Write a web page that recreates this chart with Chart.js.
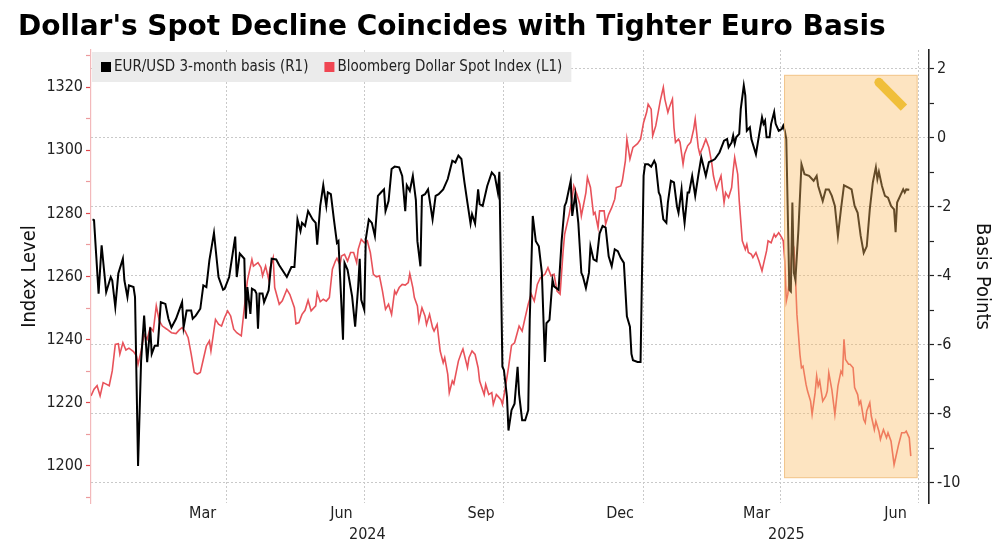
<!DOCTYPE html>
<html>
<head>
<meta charset="utf-8">
<script src="https://cdn.jsdelivr.net/npm/chart.js@4.4.1/dist/chart.umd.min.js"></script>
<style>
  html, body { margin: 0; padding: 0; background: #fff; }
</style>
</head>
<body>
<canvas id="basisChart" width="1000" height="545"></canvas>
<script>
// x values are calendar days counted from 1 Jan 2024
var basisDays = [3,4,7,9,12,15,16,18,20,23,24,26,27,30,31,33,35,37,39,41,42,44,46,48,51,53,55,58,62,63,65,68,69,71,74,76,78,80,83,86,89,90,93,97,98,100,103,104,105,107,108,110,111,112,113,115,116,119,121,124,126,131,134,136,138,140,141,143,145,148,150,151,153,155,157,158,160,162,164,165,167,168,169,171,174,176,178,179,180,182,183,185,187,189,191,193,195,196,198,200,202,205,207,209,210,212,214,216,217,219,220,222,224,227,229,231,234,237,240,242,244,246,248,250,252,253,255,257,258,260,263,266,268,270,271,273,274,276,277,279,281,283,284,286,288,290,291,293,295,297,299,301,302,304,306,307,310,312,314,315,318,319,321,323,325,326,328,330,331,333,335,337,339,341,343,345,347,349,351,353,355,357,358,359,362,364,366,367,369,371,373,374,376,377,379,381,382,384,386,388,389,391,392,393,395,396,398,400,402,404,407,409,411,413,416,419,421,422,424,425,426,427,429,430,432,433,434,436,437,440,442,444,445,446,447,449,450,452,453,455,457,458,459,460,462,463,464,465,466,468,470,472,475,478,480,481,484,486,488,490,492,494,496,498,501,503,505,507,509,511,513,515,517,519,520,521,523,525,527,529,531,532,533,535,537,538,539,541];
var basisValues = [-2.36,-2.38,-4.51,-3.11,-4.47,-4.03,-4.13,-4.90,-3.93,-3.50,-4.13,-4.61,-4.27,-4.32,-4.61,-9.51,-6.46,-5.15,-6.50,-5.49,-6.26,-6.02,-6.02,-4.76,-4.81,-5.24,-5.49,-5.24,-4.76,-5.49,-5.00,-5.00,-5.24,-5.15,-4.95,-4.27,-4.32,-3.54,-2.75,-4.03,-4.40,-4.37,-4.03,-2.86,-4.03,-3.35,-3.50,-5.24,-4.32,-5.10,-4.37,-4.42,-4.51,-5.53,-4.51,-4.51,-4.76,-4.42,-3.50,-3.52,-3.69,-4.03,-3.74,-3.74,-2.36,-2.70,-2.46,-2.55,-2.12,-2.36,-2.46,-3.09,-1.97,-1.37,-1.97,-1.58,-1.63,-2.36,-3.04,-2.99,-4.88,-5.85,-3.62,-3.82,-4.59,-5.47,-4.30,-3.50,-4.69,-4.98,-2.94,-2.36,-2.46,-2.84,-1.68,-1.58,-1.49,-2.12,-1.83,-0.90,-0.83,-0.85,-1.10,-2.12,-1.37,-1.53,-1.10,-1.80,-2.99,-3.72,-1.68,-1.63,-1.49,-2.36,-1.68,-1.63,-1.49,-1.19,-0.66,-0.71,-0.51,-0.61,-1.29,-1.89,-2.48,-2.21,-2.48,-1.49,-1.92,-1.97,-1.39,-1.00,-1.10,-1.58,-0.98,-6.63,-6.73,-7.50,-8.48,-7.89,-7.70,-6.63,-7.43,-8.18,-8.18,-7.89,-5.27,-2.26,-2.99,-3.14,-3.91,-6.49,-5.37,-5.27,-4.11,-4.30,-4.40,-2.99,-1.97,-1.87,-1.24,-2.26,-1.63,-2.46,-3.91,-4.01,-4.35,-3.91,-3.14,-3.52,-3.57,-2.77,-2.55,-2.60,-3.43,-3.72,-3.23,-3.28,-3.48,-3.62,-5.17,-5.47,-6.26,-6.44,-6.49,-6.49,-1.10,-0.76,-0.76,-0.83,-0.66,-0.76,-1.58,-1.68,-2.36,-2.46,-1.87,-1.24,-1.29,-1.99,-2.17,-1.49,-2.07,-2.46,-1.58,-1.58,-1.10,-1.68,-1.10,-0.56,-1.10,-0.70,-0.66,-0.61,-0.42,-0.08,-0.03,-0.27,-0.13,0.07,-0.17,0.02,0.12,0.84,1.52,1.23,0.21,0.31,-0.03,-0.47,0.07,0.60,0.41,0.50,0.02,0.02,0.41,0.75,0.41,0.21,0.26,0.36,0.21,-0.03,-4.40,-4.45,-1.87,-3.91,-4.11,-2.65,-0.76,-1.05,-1.10,-1.24,-1.10,-1.39,-1.83,-1.49,-1.49,-1.68,-1.97,-2.84,-2.07,-1.37,-1.44,-1.49,-1.97,-2.17,-2.84,-3.33,-3.14,-2.07,-1.29,-0.85,-1.19,-0.98,-1.39,-1.68,-1.73,-1.97,-2.07,-2.73,-1.87,-1.68,-1.49,-1.58,-1.49,-1.50];

var dollarDays = [2,4,6,7,8,10,12,14,16,18,20,21,23,25,27,30,32,33,35,37,39,41,43,45,47,49,52,55,58,60,62,64,66,68,70,72,74,76,78,80,81,84,86,88,90,92,94,96,98,101,103,105,108,109,112,114,115,117,119,120,122,123,126,128,131,133,136,137,139,141,143,145,147,150,151,153,155,157,159,161,163,164,166,167,169,171,173,175,177,178,180,182,184,186,188,190,192,194,196,198,200,202,203,205,207,209,211,212,214,215,217,218,220,222,223,225,227,228,230,232,234,235,237,238,240,241,244,246,247,250,251,253,255,257,258,261,262,264,266,267,269,270,272,273,275,277,279,281,284,286,288,290,292,294,296,298,301,303,305,307,309,311,313,314,317,319,320,322,324,325,328,329,331,333,334,336,337,340,341,343,345,347,348,351,352,354,355,357,359,362,364,366,368,369,371,372,374,375,377,379,380,382,383,385,386,387,389,390,392,393,395,397,399,400,402,403,405,407,409,411,412,414,415,417,419,420,422,424,425,426,428,429,431,433,434,435,437,438,440,442,444,445,447,448,450,452,453,455,457,458,459,460,461,463,464,465,466,467,469,470,471,473,474,476,477,479,480,481,482,484,486,487,488,490,492,494,496,497,498,499,501,502,504,505,507,508,509,511,512,513,515,516,518,519,521,522,523,524,526,527,529,531,532,534,536,538,539,541,542];
var dollarValues = [1222.2,1224.3,1225.4,1223.8,1222.2,1226.4,1225.9,1225.4,1230.1,1238.5,1238.7,1235.4,1239.0,1236.7,1237.3,1236.2,1234.8,1232.2,1236.4,1241.7,1240.1,1243.8,1242.7,1250.7,1245.9,1244.3,1243.3,1242.2,1241.9,1243.0,1243.8,1242.7,1240.6,1235.4,1229.6,1229.1,1229.6,1233.8,1238.0,1239.6,1236.4,1246.4,1244.9,1244.3,1247.0,1249.1,1247.5,1243.3,1242.2,1241.2,1250.1,1258.6,1265.4,1263.3,1264.4,1262.8,1260.2,1263.3,1259.1,1262.8,1266.0,1256.5,1251.2,1252.3,1255.9,1254.3,1250.1,1245.0,1245.4,1248.0,1249.3,1252.5,1249.1,1250.7,1254.9,1252.0,1252.8,1252.2,1253.3,1262.3,1264.9,1265.8,1263.7,1266.5,1267.0,1264.9,1267.6,1267.6,1264.4,1268.6,1271.8,1270.7,1271.3,1267.6,1260.7,1259.9,1260.2,1255.4,1249.6,1251.2,1248.0,1255.4,1254.4,1256.5,1257.5,1257.3,1258.1,1260.9,1256.5,1253.3,1250.7,1245.9,1250.1,1247.5,1244.8,1248.0,1243.8,1242.7,1244.8,1236.4,1232.7,1234.3,1229.0,1223.2,1226.9,1226.0,1233.2,1235.9,1237.0,1231.1,1234.3,1236.4,1235.3,1231.1,1226.9,1222.6,1225.8,1222.6,1223.2,1219.5,1222.6,1222.1,1221.0,1219.5,1225.0,1231.1,1238.2,1239.0,1244.3,1242.7,1247.0,1251.2,1254.4,1252.2,1257.5,1259.6,1260.7,1262.8,1260.2,1260.7,1255.4,1254.4,1268.1,1273.4,1279.7,1285.0,1288.7,1286.1,1282.9,1279.2,1286.6,1291.4,1288.2,1279.7,1280.3,1275.5,1280.8,1280.8,1276.6,1279.7,1281.8,1284.5,1288.2,1288.7,1290.3,1296.6,1303.5,1297.2,1300.9,1302.1,1303.5,1308.8,1312.0,1314.6,1313.0,1304.6,1307.7,1310.3,1315.7,1319.9,1316.2,1312.0,1313.6,1316.2,1307.2,1302.5,1303.5,1302.5,1295.6,1298.8,1301.4,1302.5,1306.7,1309.9,1300.9,1298.8,1300.9,1303.5,1300.9,1295.6,1291.9,1287.7,1289.2,1291.9,1283.4,1286.6,1285.0,1288.2,1293.5,1297.7,1292.4,1284.0,1271.3,1268.6,1270.2,1267.6,1267.0,1266.0,1267.6,1264.9,1261.8,1263.9,1268.1,1271.3,1270.7,1273.4,1272.5,1273.9,1272.3,1271.3,1264.9,1252.2,1254.4,1262.8,1270.7,1269.2,1260.2,1248.0,1235.3,1231.1,1231.6,1225.8,1223.7,1220.5,1216.3,1223.2,1228.5,1225.3,1226.9,1220.5,1222.1,1223.7,1229.5,1224.2,1216.3,1225.3,1230.0,1229.0,1240.1,1233.7,1232.2,1232.2,1231.1,1224.8,1222.6,1219.5,1220.5,1214.7,1213.7,1217.4,1220.0,1215.8,1211.5,1214.2,1211.0,1208.4,1210.0,1211.5,1208.9,1210.5,1207.8,1200.4,1202.5,1206.8,1210.5,1210.5,1211.0,1208.9,1203.1];

var indexTicks = [1200, 1220, 1240, 1260, 1280, 1300, 1320];
var basisTicks = [-10, -8, -6, -4, -2, 0, 2];
// labelled months: [label, year, month]
var monthLabels = [['Mar', 2024, 3], ['Jun', 2024, 6], ['Sep', 2024, 9], ['Dec', 2024, 12], ['Mar', 2025, 3], ['Jun', 2025, 6]];
var yearLabels = [2024, 2025];

// shaded window after the April 2025 tariff shock
var shadeDays = [458.5, 546.5];
var shadeBasis = [1.83, -9.86];

var fontFamily = "'DejaVu Sans Condensed', 'Open Sans', sans-serif";

function dayOf(y, m, d) {
    return (Date.UTC(y, m - 1, d) - Date.UTC(2024, 0, 1)) / 86400000;
}

var xMin = 2, xMax = 554;
var monthMid = monthLabels.map(function (m) {
    return (dayOf(m[1], m[2], 1) + dayOf(m[1], m[2] + 1, 1)) / 2;
});
var quarterLines = monthLabels.map(function (m) { return dayOf(m[1], m[2] + 1, 1); });
var yearMid = yearLabels.map(function (y) {
    var a = Math.max(xMin, dayOf(y, 1, 1)), b = Math.min(xMax, dayOf(y + 1, 1, 1));
    return (a + b) / 2;
});

function toPoints(days, values) {
    return days.map(function (d, i) { return { x: d, y: values[i] }; });
}

var overlayPlugin = {
    id: 'overlay',
    afterDatasetsDraw: function (chart) {
        var ctx = chart.ctx, xs = chart.scales.x, yb = chart.scales.yBasis, yi = chart.scales.yIndex;
        var area = chart.chartArea;
        ctx.save();

        // highlighted window
        var x1 = xs.getPixelForValue(shadeDays[0]), x2 = xs.getPixelForValue(shadeDays[1]);
        var y1 = yb.getPixelForValue(shadeBasis[0]), y2 = yb.getPixelForValue(shadeBasis[1]);
        ctx.fillStyle = 'rgba(250, 188, 100, 0.4)';
        ctx.fillRect(x1, y1, x2 - x1, y2 - y1);
        ctx.strokeStyle = 'rgba(238, 186, 120, 0.7)';
        ctx.lineWidth = 1;
        ctx.strokeRect(x1 + 0.5, y1 + 0.5, x2 - x1 - 1, y2 - y1 - 1);

        // highlighter stroke in the corner
        var hx1 = xs.getPixelForValue(521), hy1 = yi.getPixelForValue(1321.5);
        var hx2 = xs.getPixelForValue(537.5), hy2 = yi.getPixelForValue(1313.5);
        ctx.strokeStyle = '#f0bf3a';
        ctx.lineWidth = 9;
        ctx.lineCap = 'butt';
        ctx.beginPath();
        ctx.moveTo(hx1, hy1);
        ctx.lineTo(hx2, hy2);
        ctx.stroke();
        ctx.fillStyle = '#f0bf3a';
        ctx.beginPath();
        ctx.arc(hx1, hy1, 4.5, 0, Math.PI * 2);
        ctx.fill();

        // boxed legend inside the plot
        ctx.font = '15px ' + fontFamily;
        ctx.textBaseline = 'middle';
        var items = chart.data.datasets.map(function (ds) {
            return { text: ds.label, color: ds.legendColor, w: ctx.measureText(ds.label).width };
        });
        var bx = area.left + 1, by = area.top + 2, bh = 30, pad = 9, sq = 10, gap = 3, sep = 16;
        var bw = pad * 2 + items.reduce(function (s, it) { return s + sq + gap + it.w; }, 0) + sep * (items.length - 1);
        ctx.fillStyle = '#ebebeb';
        ctx.fillRect(bx, by, bw, bh);
        var cx = bx + pad, cy = by + bh / 2;
        items.forEach(function (it) {
            ctx.fillStyle = it.color;
            ctx.fillRect(cx, cy - sq / 2, sq, sq);
            ctx.fillStyle = '#222';
            ctx.fillText(it.text, cx + sq + gap, cy + 0.5);
            cx += sq + gap + it.w + sep;
        });
        ctx.restore();
    }
};

var chart = new Chart(document.getElementById('basisChart'), {
    type: 'line',
    data: {
        datasets: [
            {
                label: 'EUR/USD 3-month basis (R1)',
                data: toPoints(basisDays, basisValues),
                borderColor: '#000000',
                legendColor: '#000000',
                borderWidth: 2,
                pointRadius: 0,
                tension: 0,
                xAxisID: 'x',
                yAxisID: 'yBasis'
            },
            {
                label: 'Bloomberg Dollar Spot Index (L1)',
                data: toPoints(dollarDays, dollarValues),
                borderColor: '#e8525a',
                legendColor: '#f04652',
                borderWidth: 1.6,
                pointRadius: 0,
                tension: 0,
                xAxisID: 'x',
                yAxisID: 'yIndex'
            }
        ]
    },
    options: {
        responsive: false,
        animation: false,
        devicePixelRatio: 1,
        layout: { padding: { left: 18, right: 0, top: 0, bottom: 0 } },
        plugins: {
            legend: { display: false },
            tooltip: { enabled: false },
            title: {
                display: true,
                text: "Dollar's Spot Decline Coincides with Tighter Euro Basis",
                align: 'start',
                color: '#000',
                font: { family: "'DejaVu Sans', sans-serif", size: 28, weight: 'bold' },
                padding: { top: 11, bottom: 5.4 }
            }
        },
        scales: {
            x: {
                type: 'linear',
                position: 'bottom',
                min: xMin,
                max: xMax,
                weight: 0,
                afterBuildTicks: function (a) { a.ticks = quarterLines.map(function (v) { return { value: v }; }); },
                ticks: { display: false },
                grid: { color: '#c9c9c9', lineWidth: 1, drawTicks: false },
                border: { display: false, dash: [2, 2] }
            },
            xMonth: {
                type: 'linear',
                position: 'bottom',
                min: xMin,
                max: xMax,
                weight: 1,
                afterBuildTicks: function (a) { a.ticks = monthMid.map(function (v) { return { value: v }; }); },
                ticks: {
                    autoSkip: false,
                    maxRotation: 0,
                    padding: 3,
                    color: '#222',
                    font: { family: fontFamily, size: 16, lineHeight: 1 },
                    callback: function (v, i) { return monthLabels[i][0]; }
                },
                grid: { display: false, drawTicks: false },
                border: { display: false }
            },
            xYear: {
                type: 'linear',
                position: 'bottom',
                min: xMin,
                max: xMax,
                weight: 2,
                afterBuildTicks: function (a) { a.ticks = yearMid.map(function (v) { return { value: v }; }); },
                ticks: {
                    autoSkip: false,
                    maxRotation: 0,
                    padding: 2,
                    color: '#222',
                    font: { family: fontFamily, size: 16, lineHeight: 1 },
                    callback: function (v, i) { return String(yearLabels[i]); }
                },
                grid: { display: false, drawTicks: false },
                border: { display: false }
            },
            yIndex: {
                type: 'linear',
                position: 'left',
                min: 1188.25,
                max: 1331.75,
                afterBuildTicks: function (a) {
                    var t = [];
                    for (var v = indexTicks[0] - 10; v <= indexTicks[indexTicks.length - 1] + 10; v += 10) t.push({ value: v });
                    a.ticks = t;
                },
                afterFit: function (a) { a.width = 73; },
                ticks: {
                    autoSkip: false,
                    padding: 3,
                    color: '#222',
                    font: { family: fontFamily, size: 16 },
                    callback: function (v) { return indexTicks.indexOf(v) >= 0 ? String(v) : ''; }
                },
                grid: {
                    drawOnChartArea: false,
                    tickLength: 5,
                    tickWidth: 1.2,
                    tickColor: function (c) {
                        return c.tick && indexTicks.indexOf(c.tick.value) >= 0 ? '#e0474c' : '#ec9a9d';
                    }
                },
                border: { color: '#f3b9bb', width: 1.2 },
                title: {
                    display: true,
                    text: 'Index Level',
                    color: '#111',
                    font: { family: fontFamily, size: 20 },
                    padding: 0
                }
            },
            yBasis: {
                type: 'linear',
                position: 'right',
                min: -10.58,
                max: 2.55,
                afterBuildTicks: function (a) {
                    var t = [];
                    for (var v = basisTicks[0]; v <= basisTicks[basisTicks.length - 1]; v += 1) t.push({ value: v });
                    a.ticks = t;
                },
                afterFit: function (a) { a.width = 71; },
                ticks: {
                    autoSkip: false,
                    padding: 3,
                    color: '#222',
                    font: { family: fontFamily, size: 16 },
                    callback: function (v) { return basisTicks.indexOf(v) >= 0 ? String(v) : ''; }
                },
                grid: {
                    drawOnChartArea: true,
                    lineWidth: 1,
                    color: function (c) {
                        return c.tick && basisTicks.indexOf(c.tick.value) >= 0 ? '#c9c9c9' : 'rgba(0,0,0,0)';
                    },
                    tickLength: 5,
                    tickWidth: 1.2,
                    tickColor: '#222'
                },
                border: { color: '#222', width: 1.6, dash: [2, 2] },
                title: {
                    display: true,
                    text: 'Basis Points',
                    color: '#111',
                    font: { family: fontFamily, size: 20 },
                    padding: { top: 6, bottom: 0 }
                }
            }
        }
    },
    plugins: [overlayPlugin]
});
</script>
</body>
</html>
